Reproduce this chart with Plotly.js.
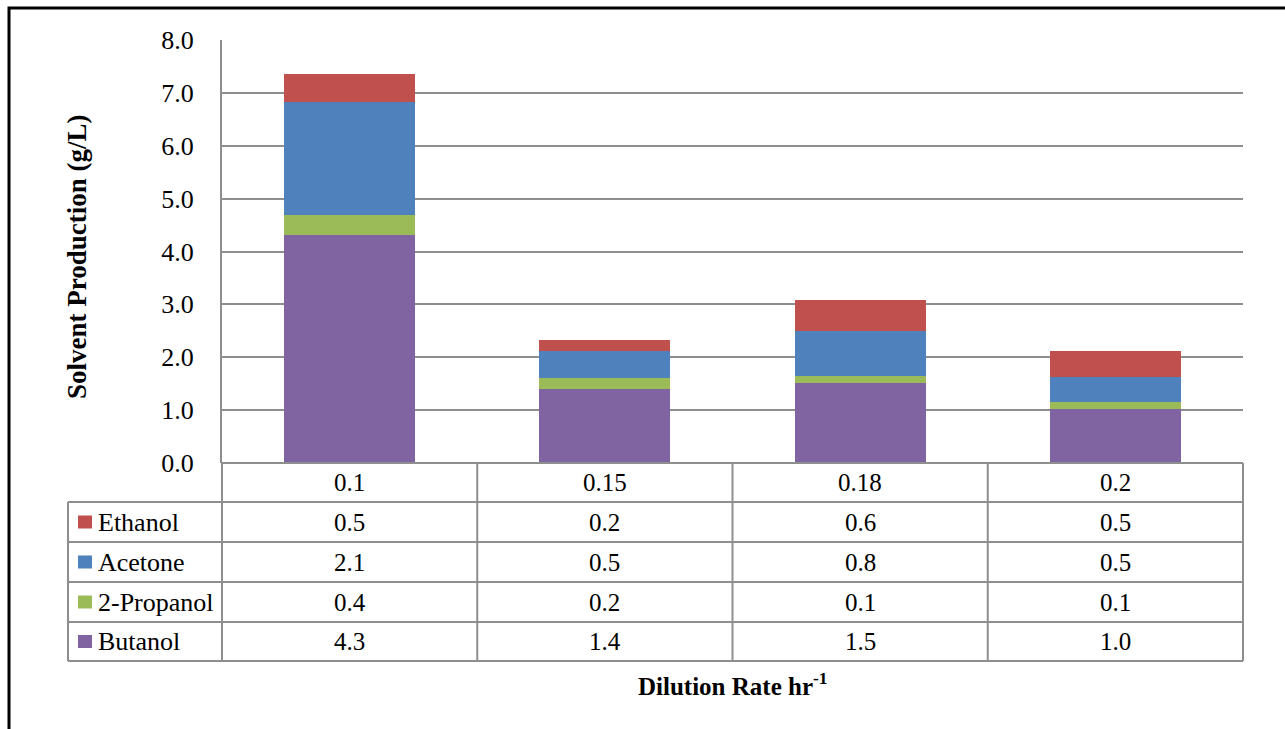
<!DOCTYPE html>
<html>
<head>
<meta charset="utf-8">
<script src="https://cdn.plot.ly/plotly-3.0.1.min.js"></script>
<style>html,body{margin:0;padding:0;background:#fff;}#chart{width:1285px;height:729px;}</style>
</head>
<body>
<div id="chart"></div>
<script>
// ---- data ----
const categories = ["0.1", "0.15", "0.18", "0.2"];
const seriesNames = ["Butanol", "2-Propanol", "Acetone", "Ethanol"]; // bottom to top
const butanol   = [4.31, 1.40, 1.51, 1.02];
const propanol  = [0.38, 0.21, 0.14, 0.14];
const acetone   = [2.14, 0.51, 0.84, 0.47];
const ethanol   = [0.53, 0.21, 0.60, 0.49];
const colors = ["#8064A2", "#9BBB59", "#4F81BD", "#C0504D"];
const yTickVals = [0, 1, 2, 3, 4, 5, 6, 7, 8];
const xTitle = "Dilution Rate hr<sup>-1</sup>";
const yTitle = "Solvent Production (g/L)";

const seriesValues = [butanol, propanol, acetone, ethanol];

// ---- layout geometry (pixels) ----
const W = 1285, H = 729;
const L = 222, R = 1243, T = 40, B = 463;
const pw = R - L, ph = B - T;
const px = x => (x - L) / pw;   // pixel -> paper x
const py = y => (B - y) / ph;   // pixel -> paper y

const FONT = "'Liberation Serif', 'Times New Roman', serif";
const FS = 25;
const gridColor = "#8e8e8e";

const traces = seriesNames.map((name, i) => ({
  type: "bar",
  name: name,
  x: categories,
  y: seriesValues[i],
  marker: { color: colors[i], line: { width: 0 } },
  showlegend: false,
  hoverinfo: "x+y+name"
}));

// table rows (top to bottom in table): Ethanol, Acetone, 2-Propanol, Butanol
const rowOrder = [3, 2, 1, 0];
const rowEdges = [463, 502, 542, 582, 622, 661];
const shapes = [];
const annotations = [];
const catCenter = j => (j + 0.5) / categories.length; // paper x of category j

// horizontal table lines
shapes.push({ type: "line", xref: "paper", yref: "paper", x0: 0, x1: 1, y0: py(rowEdges[0]), y1: py(rowEdges[0]), line: { color: gridColor, width: 2 } });
for (let k = 1; k < rowEdges.length; k++) {
  shapes.push({ type: "line", xref: "paper", yref: "paper", x0: px(68), x1: 1, y0: py(rowEdges[k]), y1: py(rowEdges[k]), line: { color: gridColor, width: 2 } });
}
// vertical lines: category boundaries
for (let c = 0; c <= categories.length; c++) {
  shapes.push({ type: "line", xref: "paper", yref: "paper", x0: c / categories.length, x1: c / categories.length, y0: py(rowEdges[0]), y1: py(rowEdges[5]), line: { color: gridColor, width: 2 } });
}
// left column box edge
shapes.push({ type: "line", xref: "paper", yref: "paper", x0: px(68), x1: px(68), y0: py(rowEdges[1]), y1: py(rowEdges[5]), line: { color: gridColor, width: 2 } });

// category labels row
categories.forEach((c, j) => {
  annotations.push({ xref: "paper", yref: "paper", x: catCenter(j), y: py((rowEdges[0] + rowEdges[1]) / 2), text: c, showarrow: false, xanchor: "center", yanchor: "middle", font: { family: FONT, size: FS, color: "#000" } });
});

rowOrder.forEach((si, r) => {
  const yc = py((rowEdges[r + 1] + rowEdges[r + 2]) / 2);
  // legend key
  shapes.push({ type: "rect", xref: "paper", yref: "paper", x0: px(78), x1: px(92), y0: yc - 6.5 / ph, y1: yc + 6.5 / ph, fillcolor: colors[si], line: { width: 0 } });
  annotations.push({ xref: "paper", yref: "paper", x: px(96), y: yc, text: seriesNames[si], showarrow: false, xanchor: "left", yanchor: "middle", font: { family: FONT, size: 26, color: "#000" } });
  categories.forEach((c, j) => {
    annotations.push({ xref: "paper", yref: "paper", x: catCenter(j), y: yc, text: seriesValues[si][j].toFixed(1), showarrow: false, xanchor: "center", yanchor: "middle", font: { family: FONT, size: FS, color: "#000" } });
  });
});

// axis titles
annotations.push({ xref: "paper", yref: "paper", x: 0.5, y: py(684), text: "<b>" + xTitle + "</b>", showarrow: false, xanchor: "center", yanchor: "middle", font: { family: FONT, size: 25, color: "#000" } });
annotations.push({ xref: "paper", yref: "paper", x: px(77), y: py(257), text: "<b>" + yTitle + "</b>", textangle: -90, showarrow: false, xanchor: "center", yanchor: "middle", font: { family: FONT, size: 27, color: "#000" } });

// outer frame (left and top)
shapes.push({ type: "path", xref: "paper", yref: "paper", path: `M ${px(9)} ${py(H + 5)} L ${px(9)} ${py(8)} L ${px(W + 5)} ${py(8)}`, line: { color: "#000", width: 3 } });

const layout = {
  width: W, height: H,
  margin: { l: L, r: W - R, t: T, b: H - B, pad: 0 },
  paper_bgcolor: "#fff", plot_bgcolor: "#fff",
  barmode: "stack",
  bargap: 0.487,
  showlegend: false,
  font: { family: FONT, size: FS, color: "#000" },
  xaxis: { type: "category", showticklabels: false, showgrid: false, zeroline: false, showline: false, ticks: "" },
  yaxis: {
    range: [0, 8], tickvals: yTickVals, tickformat: ".1f",
    showgrid: true, gridcolor: gridColor, gridwidth: 2,
    zeroline: false, showline: true, linecolor: gridColor, linewidth: 2,
    ticks: "", ticklabelstandoff: 21,
    tickfont: { family: FONT, size: 26, color: "#000" }
  },
  shapes: shapes,
  annotations: annotations
};

Plotly.newPlot("chart", traces, layout, { displayModeBar: false, staticPlot: true });
</script>
</body>
</html>
